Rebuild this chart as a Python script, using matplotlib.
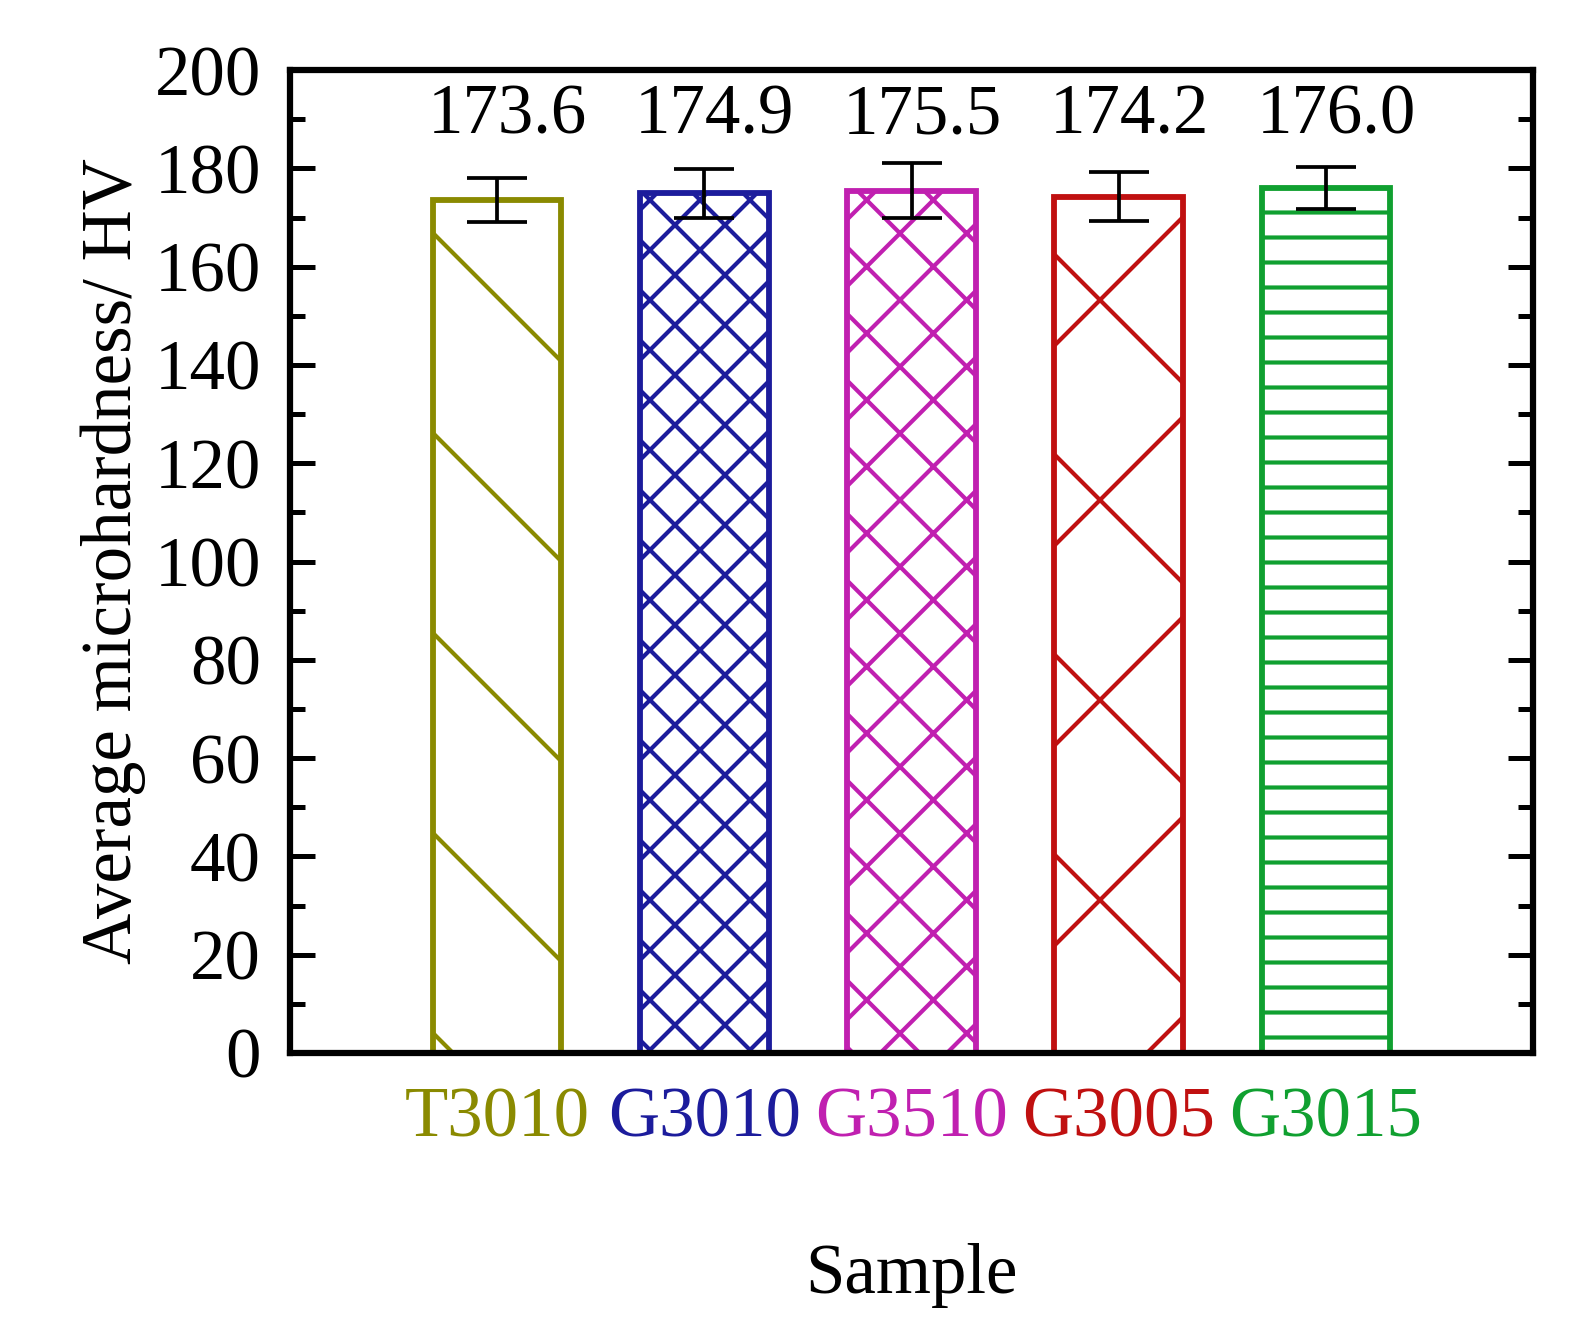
import matplotlib.pyplot as plt
from matplotlib.ticker import MultipleLocator

samples = ['T3010', 'G3010', 'G3510', 'G3005', 'G3015']
hardness = [173.6, 174.9, 175.5, 174.2, 176.0]
errors = [4.5, 5.0, 5.5, 5.0, 4.3]
colors = ['#8a8a00', '#1c1c9c', '#c020b0', '#c01010', '#10a030']
hatches = ['\\', 'xxxx', 'xxx', 'x', '----']

DPI = 600
plt.rcParams['font.family'] = ['Liberation Serif', 'DejaVu Serif']
plt.rcParams['hatch.linewidth'] = 0.5

fig = plt.figure(figsize=(1589 / DPI, 1323 / DPI), dpi=DPI)
ax = fig.add_axes([0.1825, 0.2041, 0.7823, 0.7429])

xs = range(1, len(samples) + 1)
for x, v, e, c, h in zip(xs, hardness, errors, colors, hatches):
    ax.bar(x, v, width=0.62, facecolor='white', edgecolor=c, hatch=h, linewidth=0.7, zorder=2)
    ax.errorbar(x, v, yerr=e, color='black', capsize=3.6, capthick=0.45, elinewidth=0.45, zorder=3)
    ax.text(x + 0.05, 184, f'{v:.1f}', ha='center', va='bottom', fontsize=8.5)

ax.set_xlim(0, 6)
ax.set_ylim(0, 200)
ax.yaxis.set_major_locator(MultipleLocator(20))
ax.yaxis.set_minor_locator(MultipleLocator(10))
ax.set_xticks(list(xs))
ax.set_xticklabels(samples, fontsize=8.5)
for lbl, c in zip(ax.get_xticklabels(), colors):
    lbl.set_color(c)
ax.tick_params(axis='x', length=0, pad=4)
ax.tick_params(axis='y', which='both', direction='in', left=True, right=True, labelsize=8.5, width=0.6)
ax.tick_params(axis='y', which='major', length=3)
ax.tick_params(axis='y', which='minor', length=1.8)
for s in ax.spines.values():
    s.set_linewidth(0.75)

ax.set_ylabel('Average microhardness/ HV', fontsize=8.5, labelpad=1)
ax.set_xlabel('Sample', fontsize=8.5, labelpad=11)

fig.savefig('out.png', dpi=DPI, facecolor='white')
